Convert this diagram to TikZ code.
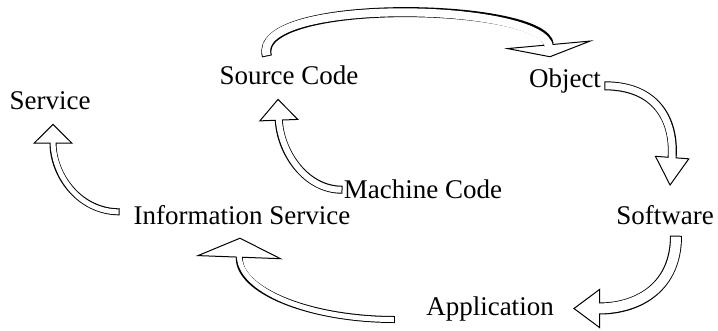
\documentclass[tikz,border=0pt]{standalone}
\usepackage{fontspec}
\setmainfont{Liberation Serif}
\usetikzlibrary{arrows.meta}

\begin{document}
\begin{tikzpicture}[x=0.5pt, y=-0.5pt,
        T node/.style={anchor=base, inner sep=0pt, font=\fontsize{13.5}{16}\selectfont},
        % hollow arrow: shaft width, head width, head length
        F arrow/.style n args={3}{draw, line width=#1, shorten >=#3-0.3pt,
            preaction={draw=white, line width=0.1pt, shorten >=0pt,
                -{Triangle[width=#2, length=#3, color=black, fill=white, line width=0.5pt]}},
            postaction={draw=white, line width=#1-1pt, shorten <=0.5pt, shorten >=#3-1.5pt}}]

    \useasboundingbox (0,0) rectangle (718,331);

    \node[T node] (svc) at (50,110) {Service};
    \node[T node] (src) at (289,85) {Source Code};
    \node[T node] (obj) at (565,88) {Object};
    \node[T node] (mach) at (423,199) {Machine Code};
    \node[T node] (info) at (242,225) {Information Service};
    \node[T node] (soft) at (665,225) {Software};
    \node[T node] (app) at (490,316) {Application};

    \path[F arrow={5pt}{45pt}{6.5pt}] ([shift={(-22,-9.5)}]src.north)
        .. controls +(-17,-60) and +(-5,-55) .. ([shift={(-15,-11.6)}]obj.north);
    \path[F arrow={4.5pt}{17.5pt}{14.5pt}] ([shift={(3,4.3)}]obj.east)
        .. controls +(51,0) and +(5,-67) .. ([shift={(5,-19.6)}]soft.north);
    \path[F arrow={6pt}{20pt}{13.5pt}] ([shift={(11,10)}]soft.south)
        .. controls +(0,50) and +(67,0) .. ([shift={(19,-1)}]app.east);
    \path[F arrow={3.5pt}{43.5pt}{10pt}] ([shift={(-31,10)}]app.west)
        .. controls +(-85,0) and +(-2,53) .. ([shift={(-2,12)}]info.south);
    \path[F arrow={4pt}{20pt}{11pt}] ([shift={(-1,0)}]mach.west)
        .. controls +(-38,0) and +(2,52) .. ([shift={(-11,13)}]src.south);
    \path[F arrow={3.5pt}{20pt}{10pt}] ([shift={(-13.6,-3.8)}]info.west)
        .. controls +(-40,0) and +(0,52) .. ([shift={(3,13)}]svc.south);
\end{tikzpicture}
\end{document}
